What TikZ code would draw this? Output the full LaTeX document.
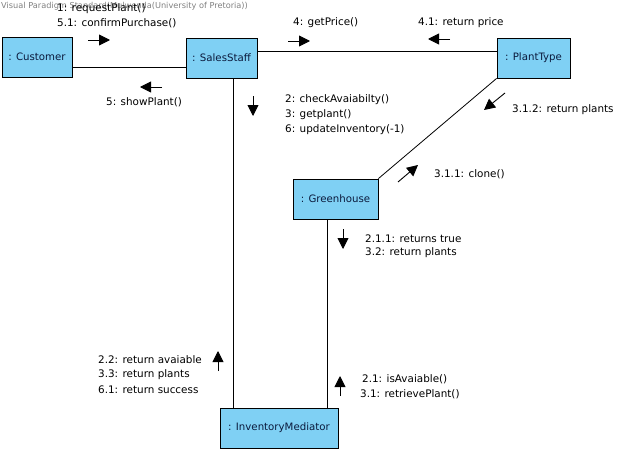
\documentclass[tikz,border=0pt]{standalone}
\usepackage{fontspec}
\setmainfont{DejaVu Sans}
\usetikzlibrary{arrows.meta,calc}
\definecolor{objfill}{HTML}{7FD0F4}
\definecolor{objtext}{HTML}{0B1A3C}
\begin{document}
\begin{tikzpicture}[x=1pt,y=-1pt,
  obj/.style={draw=black,line width=0.9pt,fill=objfill,text=objtext,
    font=\fontsize{10.2}{12}\selectfont,inner sep=0pt,anchor=center},
  link/.style={line width=0.8pt},
  msg/.style={line width=0.9pt,-{Triangle[length=11pt,width=11pt]}},
  lbl/.style={font=\fontsize{10.4}{12}\selectfont,anchor=west,inner sep=0pt},
  wm/.style={font=\fontsize{8.2}{9}\selectfont,text=black!50,anchor=west,inner sep=0pt}]
\useasboundingbox (0,0) rectangle (631,452);

% watermark
\node[wm] (wmark) at (1,6) {Visual Paradigm Standard(Mulwenda(University of Pretoria))};

% objects
\node[obj,minimum width=70pt,minimum height=40pt] (cust) at (37,57) {: Customer};
\node[obj,minimum width=71pt,minimum height=40pt] (ss) at (221.5,58) {: SalesStaff};
\node[obj,minimum width=73pt,minimum height=40pt] (pt) at (533.5,58) {: PlantType};
\node[obj,minimum width=85pt,minimum height=40pt] (gh) at (335.5,199) {: Greenhouse};
\node[obj,minimum width=118pt,minimum height=40pt] (im) at (279,428) {: InventoryMediator};

% links
\draw[link] ($(cust.east)+(0,10)$) -- ($(ss.west)+(0,9)$);
\draw[link] ($(ss.east)+(0,-7)$) -- ($(pt.west)+(0,-7)$);
\draw[link] ($(ss.south)+(11.5,0)$) coordinate (ssd) -- (ssd |- im.north);
\draw[link] (pt.south west) -- (gh.north east);
\draw[link] ($(gh.south)+(-8.5,0)$) coordinate (ghd) -- (ghd |- im.north);

% Customer <-> SalesStaff
\draw[msg] (88,40) -- (110,40);
\node[lbl] (m1) at (57,9) {1: requestPlant()};
\node[lbl] (m51) at (57,23) {5.1: confirmPurchase()};
\draw[msg] (162,87) -- (140,87);
\node[lbl] (m5) at (106,102) {5: showPlant()};

% SalesStaff <-> PlantType
\draw[msg] (288,41) -- (310,41);
\node[lbl] (m4) at (293,23) {4: getPrice()};
\draw[msg] (450,39) -- (428,39);
\node[lbl] (m41) at (418,23) {4.1: return price};

% SalesStaff -> InventoryMediator
\draw[msg] (253,96) -- (253,116);
\node[lbl] (m2) at (285,100) {2: checkAvaiabilty()};
\node[lbl] (m3) at (285,115) {3: getplant()};
\node[lbl] (m6) at (285,130) {6: updateInventory(-1)};

% PlantType <-> Greenhouse
\draw[msg] (505,93) -- (484,110);
\node[lbl] (m312) at (512,110) {3.1.2: return plants};
\draw[msg] (398,182) -- (418,165);
\node[lbl] (m311) at (434,174) {3.1.1: clone()};

% Greenhouse -> InventoryMediator
\draw[msg] (343,229) -- (343,249);
\node[lbl] (m211) at (365,239) {2.1.1: returns true};
\node[lbl] (m32) at (365,253) {3.2: return plants};

% InventoryMediator -> SalesStaff
\draw[msg] (218,371) -- (218,351);
\node[lbl] (m22) at (98,360) {2.2: return avaiable};
\node[lbl] (m33) at (98,375) {3.3: return plants};
\node[lbl] (m61) at (98,390) {6.1: return success};

% InventoryMediator -> Greenhouse
\draw[msg] (340,396) -- (340,376);
\node[lbl] (m21) at (362,379) {2.1: isAvaiable()};
\node[lbl] (m31) at (360,394) {3.1: retrievePlant()};
\end{tikzpicture}
\end{document}
